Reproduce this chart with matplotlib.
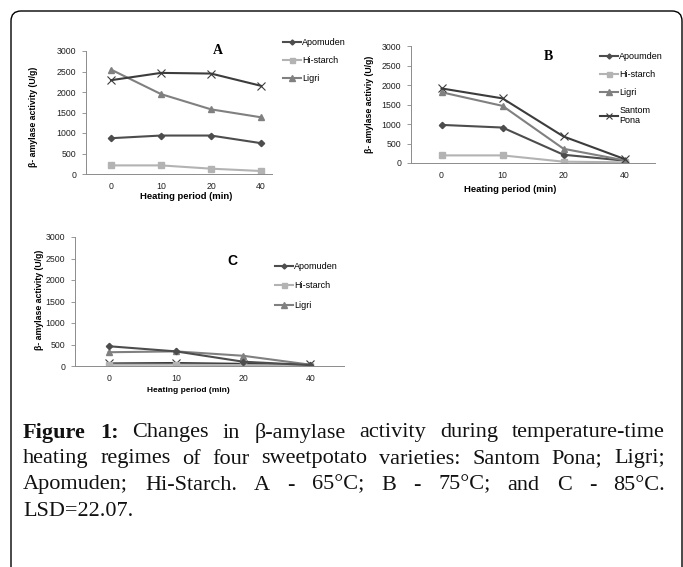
import matplotlib
matplotlib.use("Agg")
import matplotlib.pyplot as plt
from matplotlib.patches import FancyBboxPatch
from matplotlib.transforms import IdentityTransform
import numpy as np

W, H = 683, 567
DPI = 100

# ---------------- data ----------------
periods = ["0", "10", "20", "40"]
yticks = [0, 500, 1000, 1500, 2000, 2500, 3000]

a_apomuden = [873, 938, 938, 752]
a_histarch = [210, 210, 130, 73]
a_ligri = [2547, 1949, 1577, 1383]
a_santom = [2288, 2466, 2450, 2151]

b_apomuden = [977, 909, 212, 60]
b_histarch = [195, 195, 34, 17]
b_ligri = [1814, 1465, 365, 68]
b_santom = [1912, 1657, 680, 102]

c_apomuden = [460, 340, 100, 20]
c_histarch = [30, 30, 20, 10]
c_ligri = [320, 340, 238, 30]
c_santom = [60, 70, 50, 40]

legend_a = ["Apomuden", "Hi-starch", "Ligri"]
legend_b = ["Apoumden", "Hi-starch", "Ligri", "Santom\nPona"]
legend_c = ["Apomuden", "Hi-starch", "Ligri"]

ylabel_ac = "β- amylase activity (U/g)"
ylabel_b = "β- amylase activiy (U/g)"
xlabel = "Heating period (min)"

caption_lines = [
    [("Figure", True), ("1:", True), ("Changes", False), ("in", False), ("β-amylase", False),
     ("activity", False), ("during", False), ("temperature-time", False)],
    [("heating", False), ("regimes", False), ("of", False), ("four", False), ("sweetpotato", False),
     ("varieties:", False), ("Santom", False), ("Pona;", False), ("Ligri;", False)],
    [("Apomuden;", False), ("Hi-Starch.", False), ("A", False), ("-", False), ("65°C;", False),
     ("B", False), ("-", False), ("75°C;", False), ("and", False), ("C", False), ("-", False), ("85°C.", False)],
    [("LSD=22.07.", False)],
]

# ---------------- styles ----------------
SANS = ["Liberation Sans", "DejaVu Sans"]
SERIF = ["Liberation Serif", "DejaVu Serif"]
styles = {
    "apo": dict(color="#4d4d4d", marker="D", ms=3.2, lw=1.5),
    "hi": dict(color="#b3b3b3", marker="s", ms=4.5, lw=1.5),
    "li": dict(color="#808080", marker="^", ms=5, lw=1.5),
    "sp": dict(color="#3c3c3c", marker="x", ms=5.5, lw=1.5, mew=0.8),
}

fig = plt.figure(figsize=(W / DPI, H / DPI), dpi=DPI)
fig.patch.set_facecolor("white")


def fx(px):
    return px / W


def fy(py):
    return 1 - py / H


def make_ax(left, right, top, bottom, xmax):
    ax = fig.add_axes([fx(left), fy(bottom), fx(right - left), (bottom - top) / H])
    x = np.arange(len(periods))
    ax.set_xlim(-0.5, xmax)
    ax.set_ylim(0, 3000)
    ax.set_yticks(yticks)
    ax.set_yticklabels([str(v) for v in yticks], fontsize=6.3, family=SANS, color="#222222")
    ax.set_xticks(x)
    ax.set_xticklabels(periods, fontsize=6.3, family=SANS, color="#222222")
    ax.tick_params(axis="x", length=0, pad=6)
    ax.tick_params(axis="y", length=3, width=0.6, color="#888888", pad=4)
    for s in ["top", "right"]:
        ax.spines[s].set_visible(False)
    for s in ["left", "bottom"]:
        ax.spines[s].set_color("#8c8c8c")
        ax.spines[s].set_linewidth(0.7)
    ax.patch.set_alpha(0)
    return ax, x


def legend(ax, labels, keys, xpx, ypx, spacing):
    hs = []
    for k in keys:
        st = dict(styles[k])
        st["ms"] = st["ms"] * 0.8
        (h,) = ax.plot([], [], **st)
        hs.append(h)
    leg = ax.legend(hs, labels, loc="upper left", bbox_to_anchor=(fx(xpx), fy(ypx)),
                    bbox_transform=fig.transFigure, frameon=False, handlelength=2.0,
                    handletextpad=0.15, labelspacing=spacing, borderpad=0, borderaxespad=0,
                    prop={"family": SANS, "size": 6.5})
    return leg


# ---- Panel A ----
axA, x = make_ax(86, 272, 51, 174, 3.22)
axA.plot(x, a_apomuden, **styles["apo"])
axA.plot(x, a_histarch, **styles["hi"])
axA.plot(x, a_ligri, **styles["li"])
axA.plot(x, a_santom, **styles["sp"])
legend(axA, legend_a, ["apo", "hi", "li"], 283, 38, 1.0)
fig.text(fx(218), fy(50), "A", family=SERIF, weight="bold", fontsize=10, ha="center", va="center")
fig.text(fx(33), fy(117), ylabel_ac, rotation=90, family=SANS, weight="bold", fontsize=6.3,
         ha="center", va="center")
fig.text(fx(186), fy(197), xlabel, family=SANS, weight="bold", fontsize=6.8, ha="center", va="center")

# ---- Panel B ----
axB, x = make_ax(411, 655, 46, 163, 3.5)
axB.plot(x, b_apomuden, **styles["apo"])
axB.plot(x, b_histarch, **styles["hi"])
axB.plot(x, b_ligri, **styles["li"])
axB.plot(x, b_santom, **styles["sp"])
legend(axB, legend_b, ["apo", "hi", "li", "sp"], 600, 52, 1.0)
fig.text(fx(548), fy(57), "B", family=SERIF, weight="bold", fontsize=10, ha="center", va="center")
fig.text(fx(370), fy(104), ylabel_b, rotation=90, family=SANS, weight="bold", fontsize=6.3,
         ha="center", va="center")
fig.text(fx(510), fy(190), xlabel, family=SANS, weight="bold", fontsize=6.8, ha="center", va="center")

# ---- Panel C ----
axC, x = make_ax(75, 344, 237, 366, 3.5)
axC.plot(x, c_santom, **styles["sp"])
axC.plot(x, c_histarch, **styles["hi"])
axC.plot(x, c_ligri, **styles["li"])
axC.plot(x, c_apomuden, **styles["apo"])
legend(axC, legend_c, ["apo", "hi", "li"], 275, 262, 1.15)
fig.text(fx(232), fy(261), "C", family=SANS, weight="bold", fontsize=10, ha="center", va="center")
fig.text(fx(39), fy(300), ylabel_ac, rotation=90, family=SANS, weight="bold", fontsize=6.3,
         ha="center", va="center")
fig.text(fx(188), fy(390), xlabel, family=SANS, weight="bold", fontsize=6.0, ha="center", va="center")

# ---- frame ----
frame = FancyBboxPatch((11, -30), 671, (H - 11) + 30, boxstyle="round,pad=0,rounding_size=10",
                       transform=IdentityTransform(), facecolor="none", edgecolor="black", lw=1.0)
fig.patches.append(frame)

# ---- justified caption ----
renderer = fig.canvas.get_renderer()
x_left, x_right = 23, 665
line_y = [433, 459, 485, 511]
fs = 16
for i, words in enumerate(caption_lines):
    texts = []
    for w, b in words:
        t = fig.text(0, fy(line_y[i]), w, family=SERIF, fontsize=fs, weight="bold" if b else "normal",
                     va="center", ha="left", color="#111111")
        texts.append(t)
    widths = [t.get_window_extent(renderer).width for t in texts]
    if i < 3 and len(texts) > 1:
        gap = (x_right - x_left - sum(widths)) / (len(texts) - 1)
    else:
        gap = fs * DPI / 72 * 0.25
    xpos = x_left
    for t, wd in zip(texts, widths):
        t.set_x(fx(xpos))
        xpos += wd + gap

fig.savefig("out.png", dpi=DPI)
